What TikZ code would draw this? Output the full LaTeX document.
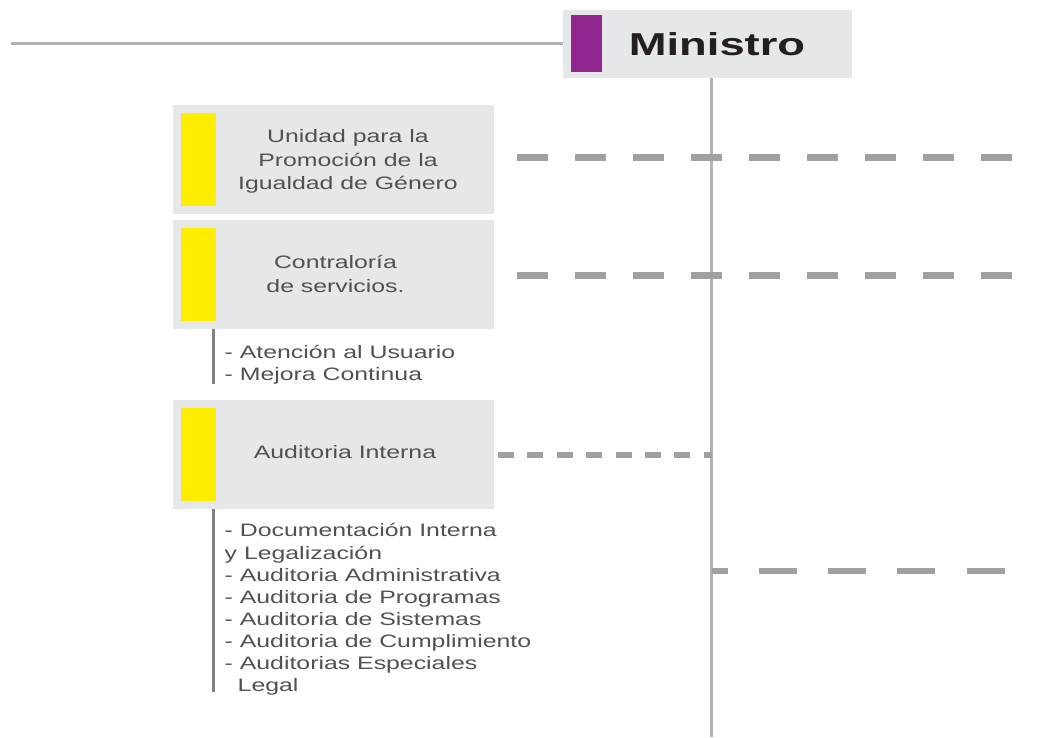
\documentclass[tikz,border=0pt]{standalone}
\usepackage{fontspec}
\setmainfont{Liberation Sans}[FakeStretch=1.38]
\newfontfamily\minfont{Liberation Sans}[FakeStretch=1.43]
\definecolor{boxgray}{HTML}{E6E7E8}
\definecolor{ybar}{HTML}{FFED00}
\definecolor{pbar}{HTML}{92278F}
\definecolor{txtgray}{HTML}{515153}
\definecolor{linegray}{HTML}{B3B3B3}
\definecolor{dashgray}{HTML}{A0A0A0}
\definecolor{brgray}{HTML}{808285}
\definecolor{mintxt}{HTML}{231F20}
\begin{document}
\begin{tikzpicture}[x=1pt,y=-1pt,
 unitbox/.style={fill=boxgray, minimum width=321pt, minimum height=109pt, inner sep=0pt, outer sep=0pt},
 minbox/.style={fill=boxgray, minimum width=289.3pt, minimum height=67.7pt, inner sep=0pt, outer sep=0pt},
 yellowbar/.style={fill=ybar, minimum width=35pt, minimum height=92.5pt, inner sep=0pt},
 purplebar/.style={fill=pbar, minimum width=31pt, minimum height=56.7pt, inner sep=0pt},
 boxtext/.style={text=txtgray, font=\fontsize{18}{23.2}\selectfont, align=center, inner sep=0pt},
 listtext/.style={text=txtgray, font=\fontsize{18}{#1}\selectfont, align=left, inner sep=0pt},
 mintext/.style={text=mintxt, font=\minfont\bfseries\fontsize{31.7}{36}\selectfont, inner sep=0pt},
 topline/.style={draw=linegray, line width=3pt},
 vline/.style={draw=linegray, line width=3.5pt},
 longdash/.style={draw=dashgray, line width=6.5pt, dash pattern=on 30.5pt off 27.5pt},
 shortdash/.style={draw=dashgray, line width=5.5pt, dash pattern=on 16pt off 13.4pt},
 lowdash/.style={draw=dashgray, line width=6pt, dash pattern=on 38pt off 31.3pt, dash phase=22pt},
 bracket/.style={draw=brgray, line width=3.3pt}]
\useasboundingbox (0,0) rectangle (1037,737);

% Ministro
\node[minbox] (min) at (707.4,43.9) {};
\node[purplebar] (minbar) at (586.2,43.4) {};
\node[mintext, anchor=base] (mint) at (717,55) {Ministro};
\coordinate (tl) at (11,43.9);
\draw[topline] (tl) -- (min.west);
\coordinate (vb) at (711.5,737);
\draw[vline] (vb |- min.south) -- (vb);

% Unit boxes
\node[unitbox] (u1) at (333.5,159.5) {};
\node[yellowbar] (y1) at (198.5,159.5) {};
\node[boxtext] (t1) at (348,161.5) {Unidad para la\\Promoción de la\\Igualdad de Género};

\node[unitbox] (u2) at (333.5,274.5) {};
\node[yellowbar] (y2) at (198.5,274.5) {};
\node[boxtext] (t2) at (335.5,274) {Contraloría\\de servicios.};

\node[unitbox] (u3) at (333.5,454.5) {};
\node[yellowbar] (y3) at (198.5,454.5) {};
\node[boxtext, anchor=base] (t3) at (345,458) {Auditoria Interna};

% Dashed connectors
\coordinate (d1e) at (1012,157.7);
\draw[longdash, shorten <=23pt] (u1.east |- d1e) -- (d1e);
\coordinate (d2e) at (1012,275.3);
\draw[longdash, shorten <=23pt] (u2.east |- d2e) -- (d2e);
\coordinate (d3e) at (711.5,455);
\draw[shortdash, shorten <=4pt] (u3.east |- d3e) -- (d3e);
\coordinate (d4s) at (711.5,571);
\coordinate (d4e) at (1005,571);
\draw[lowdash] (d4s) -- (d4e);

% Brackets and lists
\coordinate (br1) at (213.8,384);
\draw[bracket] (br1 |- u2.south) -- (br1);
\coordinate (br2) at (213.8,692);
\draw[bracket] (br2 |- u3.south) -- (br2);

\node[listtext=21.3, anchor=north west] (l1) at (224.5,345.5) {- Atención al Usuario\\- Mejora Continua};
\node[listtext=22.1, anchor=north west] (l2) at (224.5,523.5) {- Documentación Interna\\y Legalización\\- Auditoria Administrativa\\- Auditoria de Programas\\- Auditoria de Sistemas\\- Auditoria de Cumplimiento\\- Auditorias Especiales\\\hspace*{13pt}Legal};
\end{tikzpicture}
\end{document}
